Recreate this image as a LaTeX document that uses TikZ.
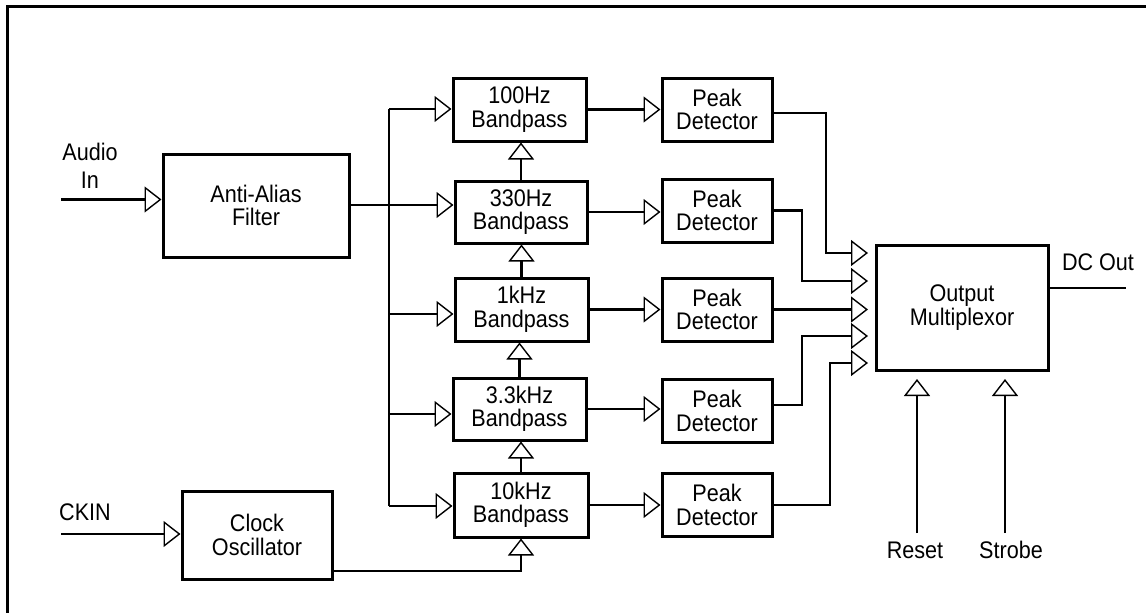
\documentclass[tikz,border=0pt]{standalone}
\usepackage{fontspec}
\setmainfont[FakeStretch=0.9]{Liberation Sans}
\usetikzlibrary{arrows.meta}
\tikzset{
  box/.style={draw, line width=3pt, align=center, inner sep=0pt,
    font=\fontsize{24}{23.5}\selectfont},
  lbl/.style={align=center, inner sep=0pt, font=\fontsize{24}{28}\selectfont},
  wire/.style={line width=2.8pt},
  arr/.style={-{Triangle[open,length=17pt,width=26pt,line width=1.4pt]}},
}
\begin{document}
\begin{tikzpicture}[x=1pt,y=-1pt]
\useasboundingbox (0,0) rectangle (1146,613);
% frame (top and left edges)
\draw[line width=3pt] (1146,6) -- (7,6) -- (7,613);

% blocks
\node[box, minimum width=186pt, minimum height=103pt] (aaf) at (256,205.5) {Anti-Alias\\Filter};
\node[box, minimum width=150pt, minimum height=88pt] (clk) at (257,535) {Clock\\Oscillator};
\node[box, minimum width=133pt, minimum height=63pt] (bp1) at (519.5,109.5) {100Hz\\Bandpass};
\node[box, minimum width=132pt, minimum height=62pt] (bp2) at (521,212) {330Hz\\Bandpass};
\node[box, minimum width=133pt, minimum height=63pt] (bp3) at (521.5,309.5) {1kHz\\Bandpass};
\node[box, minimum width=133pt, minimum height=62pt] (bp4) at (519.5,409) {3.3kHz\\Bandpass};
\node[box, minimum width=134pt, minimum height=64pt] (bp5) at (521,505) {10kHz\\Bandpass};
\foreach \i/\y in {1/109.5,2/210.5,3/309.5,4/411,5/505}
  \node[box, minimum width=110pt, minimum height=63pt] (pd\i) at (717,\y) {Peak\\Detector};
\node[box, minimum width=172pt, minimum height=125pt] (mux) at (962,307.5) {Output\\Multiplexor};

% labels
\node[lbl] (lAudio) at (90,166) {Audio\\In};
\node[lbl] (lCk) at (85,512) {CKIN};
\node[lbl] (lDc) at (1098,262) {DC Out};
\node[lbl] (lRst) at (915,550) {Reset};
\node[lbl] (lStb) at (1011,550) {Strobe};

% coordinates
\coordinate (ain) at (61,199.5);
\coordinate (cin) at (61,534);
\coordinate (aout) at (349,205);
\coordinate (b1) at (389,109);
\coordinate (b3) at (389,314);
\coordinate (b4) at (389,414);
\coordinate (b5) at (389,506);
\coordinate (mi1) at (868,253);
\coordinate (mi2) at (868,281);
\coordinate (mi3) at (868,309.5);
\coordinate (mi4) at (868,336);
\coordinate (mi5) at (868,363);
\coordinate (dco) at (1126,288);
\coordinate (rst) at (917,533);
\coordinate (rstT) at (917,379);
\coordinate (stb) at (1005,533);
\coordinate (stbT) at (1005,379);

% inputs
\draw[wire,arr] (ain) -- (aaf.west |- ain);
\draw[wire,arr] (cin) -- (clk.west |- cin);

% anti-alias to 330Hz and bus
\draw[wire,arr] (aout) -- (bp2.west |- aout);
\draw[wire] (b1) -- (b5);
\draw[wire,arr] (b1) -- (bp1.west |- b1);
\draw[wire,arr] (b3) -- (bp3.west |- b3);
\draw[wire,arr] (b4) -- (bp4.west |- b4);
\draw[wire,arr] (b5) -- (bp5.west |- b5);

% chain of clock arrows
\draw[wire,arr] ([yshift=-36pt]clk.east) -| (bp5.south);
\draw[wire,arr] (bp5.north) -- (bp5.north |- bp4.south);
\draw[wire,arr] (bp4.north) -- (bp4.north |- bp3.south);
\draw[wire,arr] (bp3.north) -- (bp3.north |- bp2.south);
\draw[wire,arr] (bp2.north) -- (bp2.north |- bp1.south);

% bandpass to peak detectors
\foreach \i in {1,...,5}
  \draw[wire,arr] (bp\i.east) -- (pd\i.west |- bp\i.east);

% peak detectors to multiplexor
\draw[wire,arr] ([yshift=-3.5pt]pd1.east) -| (826,253) -- (mi1);
\draw[wire,arr] (pd2.east) -| (802,281) -- (mi2);
\draw[wire,arr] (pd3.east) -- (mi3);
\draw[wire,arr] ([yshift=6pt]pd4.east) -| (802,336) -- (mi4);
\draw[wire,arr] (pd5.east) -| (830,363) -- (mi5);

% outputs and controls
\draw[wire] (mux.east |- dco) -- (dco);
\draw[wire,arr] (rst) -- (rstT);
\draw[wire,arr] (stb) -- (stbT);
\end{tikzpicture}
\end{document}
